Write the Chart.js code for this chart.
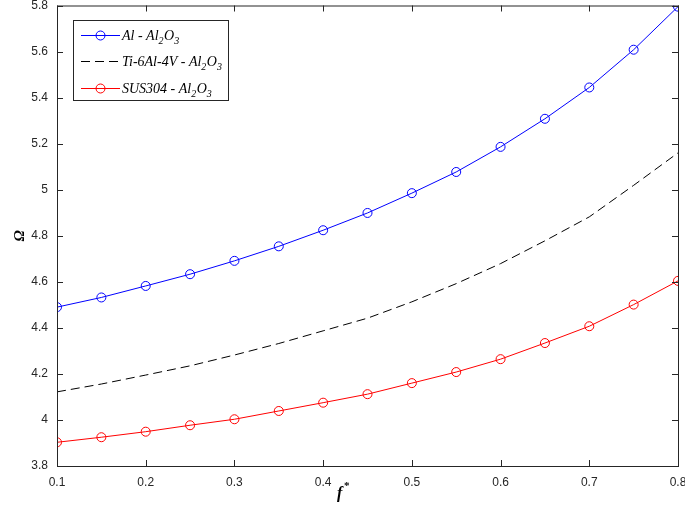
<!DOCTYPE html>
<html>
<head>
<meta charset="utf-8">
<script src="https://cdn.jsdelivr.net/npm/chart.js@4.4.1/dist/chart.umd.min.js"></script>
<style>
  html, body { margin: 0; padding: 0; background: #fff; }
  #wrap { width: 685px; height: 508px; }
</style>
</head>
<body>
<div id="wrap"><canvas id="grafico"></canvas></div>
<script>
// valores
const fStar = [0.1, 0.15, 0.2, 0.25, 0.3, 0.35, 0.4, 0.45, 0.5, 0.55, 0.6, 0.65, 0.7, 0.75, 0.8];
const alAl2O3 = [4.490, 4.532, 4.582, 4.633, 4.691, 4.754, 4.824, 4.899, 4.985, 5.077, 5.186, 5.308, 5.444, 5.608, 5.795];
const tiAl2O3 = [4.122, 4.156, 4.195, 4.235, 4.282, 4.332, 4.387, 4.442, 4.513, 4.592, 4.679, 4.778, 4.882, 5.019, 5.160];
const susAl2O3 = [3.903, 3.925, 3.949, 3.977, 4.003, 4.039, 4.075, 4.112, 4.160, 4.208, 4.264, 4.334, 4.407, 4.501, 4.604];
const xTicks = [0.1, 0.2, 0.3, 0.4, 0.5, 0.6, 0.7, 0.8];
const yTicks = [3.8, 4, 4.2, 4.4, 4.6, 4.8, 5, 5.2, 5.4, 5.6, 5.8];

const pares = arr => fStar.map((x, i) => ({ x: x, y: arr[i] }));

// legenda: [texto, subscrito?]
const legendaItens = [
  { partes: [['Al - Al', 0], ['2', 1], ['O', 0], ['3', 1]], cor: '#0000ff', dash: [], marcador: true },
  { partes: [['Ti-6Al-4V - Al', 0], ['2', 1], ['O', 0], ['3', 1]], cor: '#000000', dash: [9, 5], marcador: false },
  { partes: [['SUS304 - Al', 0], ['2', 1], ['O', 0], ['3', 1]], cor: '#ff0000', dash: [], marcador: true }
];

const moldura = {
  id: 'moldura',
  afterDatasetsDraw(chart) {
    const { ctx, chartArea: a, scales } = chart;
    ctx.save();
    ctx.strokeStyle = '#262626';
    ctx.lineWidth = 1;
    ctx.setLineDash([]);
    ctx.strokeRect(a.left + 0.5, a.top + 0.5, a.right - a.left, a.bottom - a.top);
    const tl = 6;
    ctx.beginPath();
    xTicks.forEach(v => {
      const px = Math.round(scales.x.getPixelForValue(v)) + 0.5;
      ctx.moveTo(px, a.bottom); ctx.lineTo(px, a.bottom - tl);
      ctx.moveTo(px, a.top); ctx.lineTo(px, a.top + tl);
    });
    yTicks.forEach(v => {
      const py = Math.round(scales.y.getPixelForValue(v)) + 0.5;
      ctx.moveTo(a.left, py); ctx.lineTo(a.left + tl, py);
      ctx.moveTo(a.right, py); ctx.lineTo(a.right - tl, py);
    });
    ctx.stroke();

    // titulos dos eixos
    ctx.fillStyle = '#000';
    ctx.font = 'italic bold 16px "Liberation Serif", serif';
    ctx.textAlign = 'left';
    ctx.textBaseline = 'alphabetic';
    ctx.fillText('f', 337, 498);
    ctx.font = 'bold 11px "Liberation Serif", serif';
    ctx.fillText('*', 344, 489);
    ctx.save();
    ctx.translate(24, 236);
    ctx.rotate(-Math.PI / 2);
    ctx.textAlign = 'center';
    ctx.font = 'italic bold 15px "Liberation Serif", serif';
    ctx.fillText('Ω', 0, 0);
    ctx.restore();

    // legenda
    const lx = 73.5, ly = 20.5, lw = 155, lh = 80;
    ctx.fillStyle = '#fff';
    ctx.fillRect(lx, ly, lw, lh);
    ctx.strokeStyle = '#262626';
    ctx.strokeRect(lx, ly, lw, lh);
    const linhasY = [35, 61, 88];
    legendaItens.forEach((it, i) => {
      const y = linhasY[i] + 0.5;
      ctx.strokeStyle = it.cor;
      ctx.lineWidth = 1;
      ctx.setLineDash(it.dash);
      ctx.beginPath();
      ctx.moveTo(81, y); ctx.lineTo(120, y);
      ctx.stroke();
      ctx.setLineDash([]);
      if (it.marcador) {
        ctx.beginPath();
        ctx.arc(100.5, y, 4.5, 0, Math.PI * 2);
        ctx.stroke();
      }
      ctx.fillStyle = '#000';
      ctx.textAlign = 'left';
      let x = 122;
      it.partes.forEach(([txt, sub]) => {
        ctx.font = sub ? 'italic 10px "Liberation Serif", serif' : 'italic 14px "Liberation Serif", serif';
        ctx.fillText(txt, x, y + (sub ? 8 : 4));
        x += ctx.measureText(txt).width + (sub ? 0.5 : 0);
      });
    });
    ctx.restore();
  }
};

const fonteTicks = { family: '"Liberation Sans", Arial, sans-serif', size: 12 };

new Chart(document.getElementById('grafico'), {
  type: 'line',
  data: {
    datasets: [
      {
        label: 'Al - Al2O3',
        data: pares(alAl2O3),
        borderColor: '#0000ff',
        borderWidth: 1,
        pointRadius: 4.5,
        pointBorderWidth: 1,
        pointBorderColor: '#0000ff',
        pointBackgroundColor: 'rgba(0,0,0,0)',
        tension: 0
      },
      {
        label: 'Ti-6Al-4V - Al2O3',
        data: pares(tiAl2O3),
        borderColor: '#000000',
        borderWidth: 1,
        borderDash: [9, 5],
        pointRadius: 0,
        tension: 0
      },
      {
        label: 'SUS304 - Al2O3',
        data: pares(susAl2O3),
        borderColor: '#ff0000',
        borderWidth: 1,
        pointRadius: 4.5,
        pointBorderWidth: 1,
        pointBorderColor: '#ff0000',
        pointBackgroundColor: 'rgba(0,0,0,0)',
        tension: 0
      }
    ]
  },
  options: {
    responsive: true,
    maintainAspectRatio: false,
    animation: false,
    events: [],
    layout: { padding: { left: 0, top: 5, right: 7, bottom: 0 } },
    plugins: { legend: { display: false }, tooltip: { enabled: false } },
    scales: {
      x: {
        type: 'linear',
        min: 0.1,
        max: 0.8,
        afterBuildTicks: s => { s.ticks = xTicks.map(v => ({ value: v })); },
        afterFit: s => { s.height = 42; s.paddingLeft = 0; s.paddingRight = 0; },
        grid: { display: false, drawTicks: false },
        border: { display: false },
        ticks: { color: '#262626', font: fonteTicks, padding: 9, maxRotation: 0, callback: v => String(+v.toFixed(2)) }
      },
      y: {
        min: 3.8,
        max: 5.8,
        afterBuildTicks: s => { s.ticks = yTicks.map(v => ({ value: v })); },
        afterFit: s => { s.width = 57; s.paddingTop = 0; s.paddingBottom = 0; },
        grid: { display: false, drawTicks: false },
        border: { display: false },
        ticks: { color: '#262626', font: fonteTicks, padding: 9, callback: v => String(+v.toFixed(2)) }
      }
    }
  },
  plugins: [moldura]
});
</script>
</body>
</html>
